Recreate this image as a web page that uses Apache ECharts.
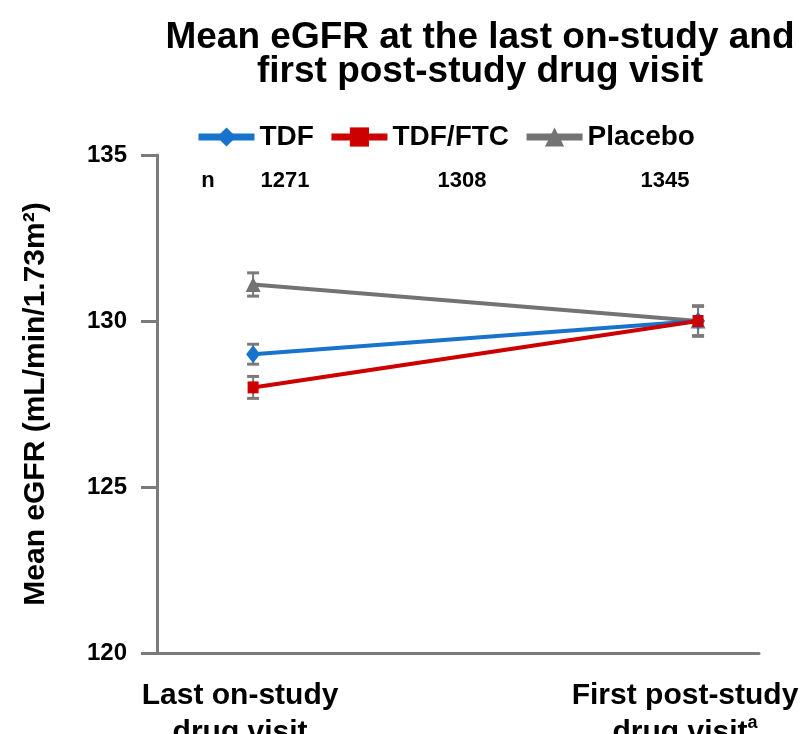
<!DOCTYPE html>
<html>
<head>
<meta charset="utf-8">
<script src="https://cdn.jsdelivr.net/npm/echarts@6/dist/echarts.min.js"></script>
<style>html,body{margin:0;padding:0;background:#fff}#c{width:800px;height:734px}</style>
</head>
<body>
<div id="c"></div>
<script>
// ---- data ----
const visitLabels = ['Last on-study\ndrug visit', 'First post-study\ndrug visit{sup|a}'];
const visitX = [0, 1];
const tdfMean = [129.0, 130.0];
const tdfErr = [0.3, 0.45];
const ftcMean = [128.0, 130.0];
const ftcErr = [0.33, 0.45];
const pboMean = [131.1, 130.0];
const pboErr = [0.35, 0.45];
const seriesNames = ['TDF', 'TDF/FTC', 'Placebo'];
const nLabels = ['n', '1271', '1308', '1345'];
const yTicks = [120, 125, 130, 135];

const FONT = "'Liberation Sans', Arial, sans-serif";
const C_TDF = '#1873cc', C_FTC = '#cc0000', C_PBO = '#737373', C_AX = '#7a7a7a';

const toPts = m => visitX.map((x, i) => [x, m[i]]);
const errData = [];
[[tdfMean, tdfErr], [ftcMean, ftcErr], [pboMean, pboErr]].forEach(([m, e]) => {
  visitX.forEach((x, i) => errData.push([x, m[i] - e[i], m[i] + e[i]]));
});

const chart = echarts.init(document.getElementById('c'), null, {renderer: 'canvas'});
const nPos = [208, 285, 462, 665];
chart.setOption({
  animation: false,
  backgroundColor: '#fff',
  title: {
    text: 'Mean eGFR at the last on-study and\nfirst post-study drug visit',
    left: 480, top: 21, textAlign: 'center', padding: 0,
    textStyle: {fontFamily: FONT, fontSize: 37, fontWeight: 'bold', color: '#000', lineHeight: 34}
  },
  legend: {
    data: seriesNames,
    left: 190, top: 118,
    itemWidth: 56, itemHeight: 24, itemGap: 14,
    lineStyle: {width: 7},
    textStyle: {fontFamily: FONT, fontSize: 28, fontWeight: 'bold', color: '#000'}
  },
  grid: {left: 157, right: 41, top: 155, bottom: 81, outerBoundsMode: 'none'},
  xAxis: {
    type: 'value', min: -0.216, max: 1.137,
    axisLine: {show: true, onZero: false, lineStyle: {color: C_AX, width: 3}},
    axisTick: {show: false},
    splitLine: {show: false},
    axisLabel: {
      customValues: visitX,
      formatter: v => visitLabels[Math.round(v)],
      fontFamily: FONT, fontSize: 30, fontWeight: 'bold', color: '#000', lineHeight: 37,
      margin: 24, padding: [0, 26, 0, 0],
      rich: {sup: {fontFamily: FONT, fontSize: 18, fontWeight: 'bold', color: '#000', verticalAlign: 'top', lineHeight: 37}}
    }
  },
  yAxis: {
    type: 'value', min: yTicks[0], max: yTicks[yTicks.length - 1], interval: 5,
    axisLine: {show: true, onZero: false, lineStyle: {color: C_AX, width: 3}},
    axisTick: {show: true, length: 16, lineStyle: {color: C_AX, width: 3}},
    splitLine: {show: false},
    axisLabel: {fontFamily: FONT, fontSize: 24, fontWeight: 'bold', color: '#000', margin: 30},
    name: 'Mean eGFR (mL/min/1.73m²)',
    nameLocation: 'middle', nameGap: 106,
    nameTextStyle: {fontFamily: FONT, fontSize: 30, fontWeight: 'bold', color: '#000'}
  },
  graphic: nLabels.map((t, i) => ({
    type: 'text', x: nPos[i], y: 181,
    style: {text: t, font: "bold 22px 'Liberation Sans', Arial, sans-serif", fill: '#000', align: 'center', verticalAlign: 'middle'}
  })),
  series: [
    {
      type: 'custom', name: 'err', z: 1, silent: true,
      data: errData, encode: {x: 0, y: [1, 2]},
      renderItem: (params, api) => {
        const x = api.value(0);
        const p1 = api.coord([x, api.value(2)]);
        const p2 = api.coord([x, api.value(1)]);
        const w = 6;
        const st = lw => ({stroke: C_AX, lineWidth: lw});
        return {type: 'group', children: [
          {type: 'line', shape: {x1: p1[0], y1: p1[1], x2: p2[0], y2: p2[1]}, style: st(2)},
          {type: 'line', shape: {x1: p1[0] - w, y1: p1[1], x2: p1[0] + w, y2: p1[1]}, style: st(3)},
          {type: 'line', shape: {x1: p2[0] - w, y1: p2[1], x2: p2[0] + w, y2: p2[1]}, style: st(3)}
        ]};
      }
    },
    {
      name: 'Placebo', type: 'line', z: 2, data: toPts(pboMean),
      symbol: 'triangle', symbolSize: [15, 15],
      lineStyle: {color: C_PBO, width: 4}, itemStyle: {color: C_PBO}
    },
    {
      name: 'TDF', type: 'line', z: 3, data: toPts(tdfMean),
      symbol: 'diamond', symbolSize: [14, 18],
      lineStyle: {color: C_TDF, width: 4}, itemStyle: {color: C_TDF}
    },
    {
      name: 'TDF/FTC', type: 'line', z: 4, data: toPts(ftcMean),
      symbol: 'rect', symbolSize: [11, 12],
      lineStyle: {color: C_FTC, width: 4}, itemStyle: {color: C_FTC}
    }
  ]
});
</script>
</body>
</html>
